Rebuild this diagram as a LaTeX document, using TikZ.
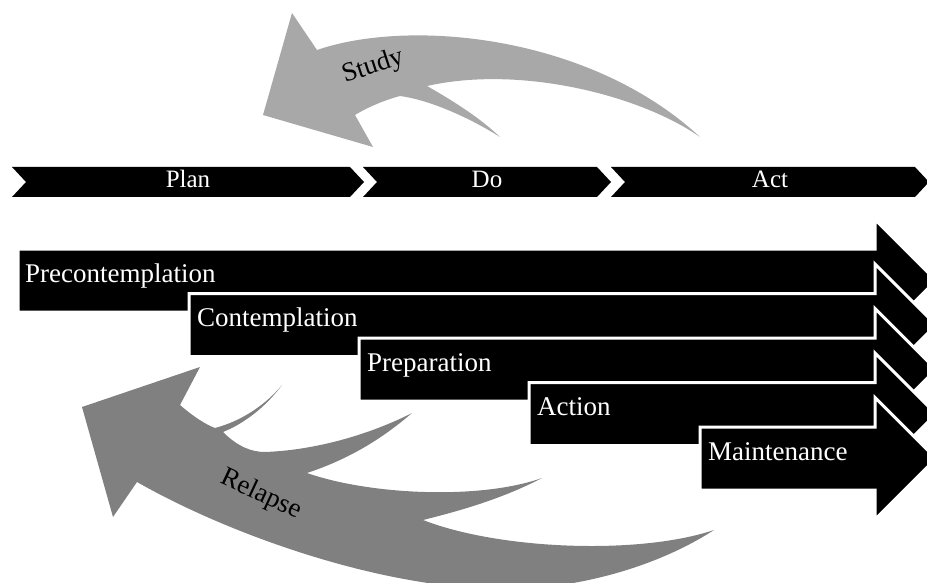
\documentclass[tikz,border=0pt]{standalone}
\usepackage{fontspec}
\setmainfont{Liberation Serif}
\usetikzlibrary{arrows,backgrounds,calc,shapes}
\definecolor{studygray}{RGB}{168,168,168}
\definecolor{relapsegray}{RGB}{128,128,128}

\begin{document}
\begin{tikzpicture}[x=1pt,y=-1pt,
    phase/.style={fill=black},
    phasetext/.style={text=white,font=\fontsize{25}{30}\selectfont,anchor=base,inner sep=0pt},
    stagebar/.style={fill=black,draw=white,line width=3pt,line join=miter},
    stagetext/.style={text=white,font=\fontsize{27}{32}\selectfont,anchor=base west,inner sep=0pt},
    looptext/.style={font=\fontsize{27}{32}\selectfont,inner sep=0pt}]
  \clip (0,0) rectangle (927,583);
  % study loop
  \fill[studygray] (263,115) -- (292,13) -- (317,50)
     .. controls (410,18) and (590,35) .. (700,137)
     .. controls (640,95) and (520,65) .. (427,86)
     .. controls (455,102) and (480,118) .. (500,137)
     .. controls (470,118) and (430,100) .. (400,96)
     .. controls (385,100) and (368,107) .. (355,115)
     -- (373,147) -- cycle;
  \node[looptext,rotate=18] (study) at (373,67) {Study};
  % relapse loop
  \fill[relapsegray] (82,407) -- (200,367) -- (180,405)
     .. controls (195,418) and (207,425) .. (215,428)
     .. controls (245,420) and (268,402) .. (282,385)
     .. controls (265,408) and (243,424) .. (223,432)
     .. controls (238,447) and (252,452) .. (265,452)
     .. controls (320,450) and (375,432) .. (412,413)
     .. controls (375,445) and (340,462) .. (307,473)
     .. controls (370,495) and (480,500) .. (542,478)
     .. controls (500,500) and (455,512) .. (423,520)
     .. controls (500,550) and (640,555) .. (714,530)
     .. controls (660,565) and (580,590) .. (500,589)
     .. controls (380,588) and (230,535) .. (137,482)
     -- (113,517) -- cycle;
  \node[looptext,rotate=-25] (relapse) at (261,495) {Relapse};
  % Plan - Do - Act
  \fill[phase] (12,167) -- (350,167) -- (364,182) -- (350,197) -- (12,197) -- (26,182) -- cycle;
  \fill[phase] (363,167) -- (597,167) -- (611,182) -- (597,197) -- (363,197) -- (377,182) -- cycle;
  \fill[phase] (611,167) -- (915,167) -- (929,182) -- (915,197) -- (611,197) -- (625,182) -- cycle;
  \node[phasetext] (plan) at (188,187.5) {Plan};
  \node[phasetext] (do) at (487,187.5) {Do};
  \node[phasetext] (act) at (770,187.5) {Act};
  % stages
  \filldraw[stagebar] (18,249) -- (875,249) -- ++(0,-29.5) -- ++(61,61) -- ++(-61,61) -- ++(0,-29.5) -- (18,312) -- cycle;
  \node[stagetext] (precontemplation) at (25,282) {Precontemplation};
  \filldraw[stagebar] (189,293.5) -- (875,293.5) -- ++(0,-29.5) -- ++(61,61) -- ++(-61,61) -- ++(0,-29.5) -- (189,356.5) -- cycle;
  \node[stagetext] (contemplation) at (197,326.5) {Contemplation};
  \filldraw[stagebar] (359,338) -- (875,338) -- ++(0,-29.5) -- ++(61,61) -- ++(-61,61) -- ++(0,-29.5) -- (359,401) -- cycle;
  \node[stagetext] (preparation) at (367,371) {Preparation};
  \filldraw[stagebar] (529,382.5) -- (875,382.5) -- ++(0,-29.5) -- ++(61,61) -- ++(-61,61) -- ++(0,-29.5) -- (529,445.5) -- cycle;
  \node[stagetext] (action) at (537,415.5) {Action};
  \filldraw[stagebar] (700,427) -- (875,427) -- ++(0,-29.5) -- ++(61,61) -- ++(-61,61) -- ++(0,-29.5) -- (700,490) -- cycle;
  \node[stagetext] (maintenance) at (708,460) {Maintenance};
\end{tikzpicture}
\end{document}
